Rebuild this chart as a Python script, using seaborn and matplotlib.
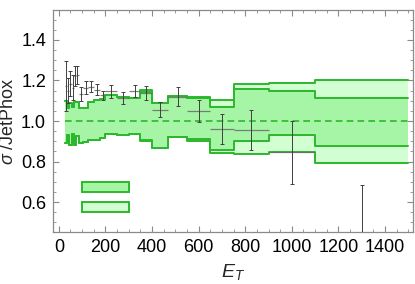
import numpy as np
import pandas as pd
import matplotlib
matplotlib.use("Agg")
import matplotlib.pyplot as plt
from matplotlib.patches import Rectangle
from matplotlib.ticker import MultipleLocator, FormatStrFormatter
import seaborn as sns

# ---- data ----
bin_edges = [25, 35, 45, 55, 65, 75, 85, 105, 125, 150, 175, 200, 250, 300,
             350, 400, 470, 550, 650, 750, 900, 1100, 1500]
inner_upper = [1.100, 1.062, 1.087, 1.070, 1.095, 1.092, 1.062, 1.062, 1.095, 1.102,
               1.108, 1.128, 1.120, 1.112, 1.145, 1.090, 1.125, 1.112, 1.068, 1.157,
               1.148, 1.115]
outer_upper = [1.100, 1.062, 1.087, 1.070, 1.095, 1.092, 1.062, 1.062, 1.095, 1.102,
               1.108, 1.128, 1.120, 1.112, 1.155, 1.090, 1.125, 1.120, 1.104, 1.181,
               1.190, 1.202]
inner_lower = [0.890, 0.930, 0.880, 0.935, 0.880, 0.925, 0.893, 0.895, 0.906, 0.906,
               0.915, 0.935, 0.931, 0.937, 0.906, 0.865, 0.922, 0.910, 0.857, 0.901,
               0.931, 0.878]
outer_lower = [0.890, 0.930, 0.880, 0.935, 0.880, 0.925, 0.893, 0.895, 0.906, 0.906,
               0.915, 0.935, 0.931, 0.937, 0.900, 0.865, 0.922, 0.903, 0.840, 0.837,
               0.849, 0.792]

data_x = [30, 40, 50, 60, 70, 80, 95, 115, 137.5, 162.5, 187.5, 225, 275, 325,
          375, 435, 510, 600, 700, 825, 1000, 1300]
data_xerr = [5, 5, 5, 5, 5, 5, 10, 10, 12.5, 12.5, 12.5, 25, 25, 25,
             25, 35, 40, 50, 50, 75, 100, 200]
data_y = [1.172, 1.150, 1.185, 1.165, 1.222, 1.226, 1.133, 1.165, 1.170, 1.155,
          1.128, 1.146, 1.115, 1.150, 1.140, 1.056, 1.120, 1.051, 0.960, 0.956,
          0.845, 0.350]
data_yerr = [0.125, 0.060, 0.060, 0.060, 0.048, 0.045, 0.035, 0.032, 0.028, 0.026,
             0.022, 0.030, 0.030, 0.030, 0.035, 0.037, 0.048, 0.054, 0.073, 0.098,
             0.155, 0.333]

x_ticks = [0, 200, 400, 600, 800, 1000, 1200, 1400]
y_ticks = [0.6, 0.8, 1.0, 1.2, 1.4]

# ---- style ----
sns.set_style("ticks")
plt.rcParams['font.family'] = ['Liberation Sans', 'DejaVu Sans']
plt.rcParams['mathtext.fontset'] = 'custom'
plt.rcParams['mathtext.it'] = 'Liberation Sans:italic'
plt.rcParams['mathtext.rm'] = 'Liberation Sans'

inner_fill = '#a6f5a6'
outer_fill = '#d2ffd2'
edge_col = '#2cb82c'
frame_col = '#8a8a8a'

fig = plt.figure(figsize=(4.15, 2.84), dpi=100)
ax = fig.add_axes([53/415, 52/284, 360/415, 222/284])

edges = np.array(bin_edges)
def ext(v):
    return np.append(np.array(v), v[-1])

# bands
ax.fill_between(edges, ext(outer_lower), ext(outer_upper), step='post',
                color=outer_fill, lw=0, zorder=1)
ax.fill_between(edges, ext(inner_lower), ext(inner_upper), step='post',
                color=inner_fill, lw=0, zorder=2)
for arr in (outer_upper, outer_lower, inner_upper, inner_lower):
    ax.step(edges, ext(arr), where='post', color=edge_col, lw=1.4, zorder=3)

# central dashed line
ref = pd.DataFrame({'x': [bin_edges[0], bin_edges[-1]], 'y': [1.0, 1.0]})
sns.lineplot(data=ref, x='x', y='y', ax=ax, color=edge_col, lw=1.2,
             dashes=False, zorder=4)
ax.lines[-1].set_dashes([4, 2.5])

# data points
ax.errorbar(data_x, data_y, xerr=data_xerr, fmt='none', ecolor='#6a6a6a',
            elinewidth=0.9, capsize=0, zorder=5, alpha=0.85)
ax.errorbar(data_x, data_y, yerr=data_yerr, fmt='none', ecolor='#404040',
            elinewidth=0.7, capsize=1.2, capthick=0.7, zorder=6)

# legend boxes
ax.add_patch(Rectangle((100, 0.651), 200, 0.049, facecolor=inner_fill,
                       edgecolor=edge_col, lw=1.4, zorder=7))
ax.add_patch(Rectangle((100, 0.553), 200, 0.049, facecolor=outer_fill,
                       edgecolor=edge_col, lw=1.4, zorder=7))

ax.set_xlim(-25, 1520)
ax.set_ylim(0.452, 1.548)
ax.set_xticks(x_ticks)
ax.set_yticks(y_ticks)
ax.yaxis.set_major_formatter(FormatStrFormatter('%.1f'))
ax.xaxis.set_minor_locator(MultipleLocator(50))
ax.yaxis.set_minor_locator(MultipleLocator(0.05))
ax.tick_params(which='both', direction='in', top=True, right=True,
               color=frame_col, labelsize=13, labelcolor='black', pad=5)
ax.tick_params(which='major', length=4, width=0.8)
ax.tick_params(which='minor', length=2, width=0.6)
for s in ax.spines.values():
    s.set_color(frame_col)
    s.set_linewidth(0.9)

ax.set_xlabel(r'$E_T$', fontsize=14, labelpad=4)
ax.set_ylabel(r'$\sigma$ /JetPhox', fontsize=13, labelpad=3)

fig.savefig('out.png', dpi=100)
